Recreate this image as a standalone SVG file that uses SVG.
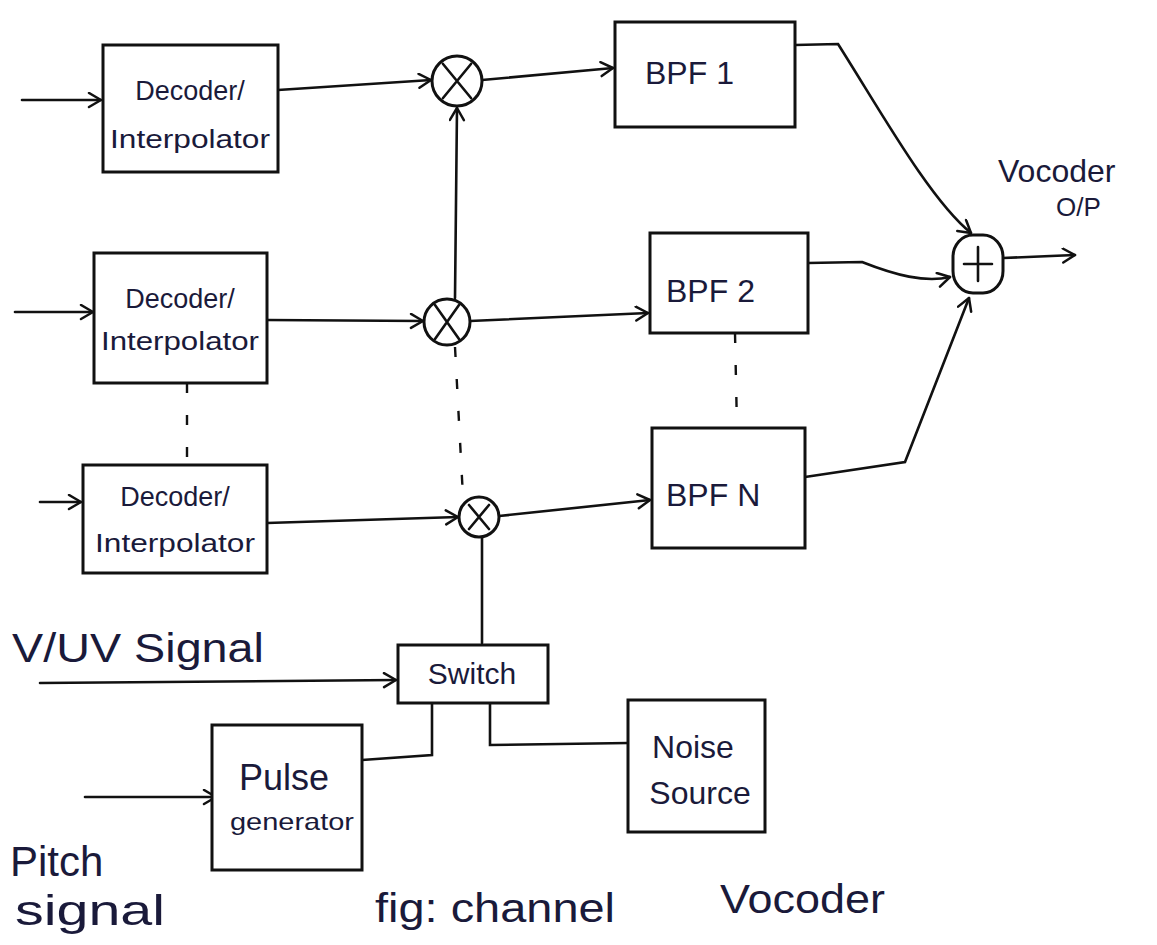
<svg xmlns="http://www.w3.org/2000/svg" width="1157" height="945" viewBox="0 0 1157 945">
<defs>
<marker id="arr" markerUnits="userSpaceOnUse" markerWidth="20" markerHeight="20" refX="14" refY="8" orient="auto">
<path d="M2,1 L14,8 L2,15" fill="none" stroke="#111" stroke-width="2.5" stroke-linecap="round" stroke-linejoin="round"/>
</marker>
<style>
.box{fill:#fff;stroke:#111;stroke-width:3}
.ln{fill:none;stroke:#111;stroke-width:2.6;stroke-linecap:round}
.dash{fill:none;stroke:#111;stroke-width:2.4;stroke-dasharray:10 22}
.t{font-family:"Liberation Sans",Arial,sans-serif;fill:#1a1a3a}
.op{fill:#fff;stroke:#111;stroke-width:3}
</style>
</defs>
<rect width="1157" height="945" fill="#fff"/>

<g id="connectors">
<path class="ln" d="M22,100 L101,100" marker-end="url(#arr)"/>
<path class="ln" d="M15,312 L93,312" marker-end="url(#arr)"/>
<path class="ln" d="M40,502 L81,502" marker-end="url(#arr)"/>
<path class="ln" d="M278,90 L431,80" marker-end="url(#arr)"/>
<path class="ln" d="M267,320 L423,321" marker-end="url(#arr)"/>
<path class="ln" d="M267,523 L458,517" marker-end="url(#arr)"/>
<path class="ln" d="M455,298 L457,108" marker-end="url(#arr)"/>
<path class="ln" d="M482,80 L613,68" marker-end="url(#arr)"/>
<path class="ln" d="M470,321 L648,313" marker-end="url(#arr)"/>
<path class="ln" d="M499,516 L650,500" marker-end="url(#arr)"/>
<path class="ln" d="M482,643 L482,537"/>
<path class="ln" d="M40,683 L396,680" marker-end="url(#arr)"/>
<path class="ln" d="M85,797 L216,797" marker-end="url(#arr)"/>
<path class="ln" d="M362,760 L432,755 L432,703"/>
<path class="ln" d="M490,703 L490,745 L628,743"/>
<path class="ln" d="M795,45 L838,44 C880,110 930,200 971,233" marker-end="url(#arr)"/>
<path class="ln" d="M808,263 L862,262 C895,275 925,283 950,277" marker-end="url(#arr)"/>
<path class="ln" d="M805,477 L905,462 L969,298" marker-end="url(#arr)"/>
<path class="ln" d="M1003,258 L1075,255" marker-end="url(#arr)"/>
<path class="dash" d="M187,383 L187,465"/>
<path class="dash" d="M455,347 L463,497"/>
<path class="dash" d="M735,333 L737,428"/>
</g>

<g id="dec1">
<rect class="box" x="103" y="45" width="175" height="127"/>
<text class="t" x="190" y="100" font-size="27" text-anchor="middle">Decoder/</text>
<text class="t" x="190" y="148" font-size="26" text-anchor="middle" textLength="160" lengthAdjust="spacingAndGlyphs">Interpolator</text>
</g>
<g id="dec2">
<rect class="box" x="94" y="253" width="173" height="130"/>
<text class="t" x="180" y="308" font-size="27" text-anchor="middle">Decoder/</text>
<text class="t" x="180" y="350" font-size="26" text-anchor="middle" textLength="158" lengthAdjust="spacingAndGlyphs">Interpolator</text>
</g>
<g id="dec3">
<rect class="box" x="83" y="465" width="184" height="108"/>
<text class="t" x="175" y="506" font-size="27" text-anchor="middle">Decoder/</text>
<text class="t" x="175" y="552" font-size="26" text-anchor="middle" textLength="160" lengthAdjust="spacingAndGlyphs">Interpolator</text>
</g>

<g id="mult1">
<circle class="op" cx="457" cy="81" r="25"/>
<path class="ln" d="M443,64 L471,98 M471,64 L443,98"/>
</g>
<g id="mult2">
<circle class="op" cx="447" cy="322" r="23"/>
<path class="ln" d="M435,305 L459,339 M459,305 L435,339"/>
</g>
<g id="mult3">
<circle class="op" cx="479" cy="517" r="20"/>
<path class="ln" d="M469,505 L489,529 M489,505 L469,529"/>
</g>

<g id="bpf1">
<rect class="box" x="615" y="22" width="180" height="105"/>
<text class="t" x="645" y="84" font-size="32">BPF  1</text>
</g>
<g id="bpf2">
<rect class="box" x="650" y="233" width="158" height="100"/>
<text class="t" x="666" y="302" font-size="32">BPF  2</text>
</g>
<g id="bpfn">
<rect class="box" x="652" y="428" width="153" height="120"/>
<text class="t" x="666" y="506" font-size="32">BPF N</text>
</g>

<g id="sum">
<rect class="op" x="953" y="235" width="50" height="58" rx="20" ry="22"/>
<path class="ln" d="M978,247 L978,281 M964,264 L992,264"/>
</g>
<g id="out-label">
<text class="t" x="998" y="182" font-size="32">Vocoder</text>
<text class="t" x="1056" y="216" font-size="26">O/P</text>
</g>

<g id="switch">
<rect class="box" x="398" y="645" width="150" height="58"/>
<text class="t" x="472" y="684" font-size="30" text-anchor="middle">Switch</text>
</g>
<g id="pulse">
<rect class="box" x="212" y="725" width="150" height="145"/>
<text class="t" x="284" y="790" font-size="36" text-anchor="middle">Pulse</text>
<text class="t" x="292" y="830" font-size="24" text-anchor="middle" textLength="124" lengthAdjust="spacingAndGlyphs">generator</text>
</g>
<g id="noise">
<rect class="box" x="628" y="700" width="137" height="132"/>
<text class="t" x="693" y="758" font-size="32" text-anchor="middle">Noise</text>
<text class="t" x="700" y="804" font-size="32" text-anchor="middle">Source</text>
</g>

<g id="labels">
<text class="t" x="12" y="662" font-size="40" textLength="252" lengthAdjust="spacingAndGlyphs">V/UV Signal</text>
<text class="t" x="10" y="876" font-size="42">Pitch</text>
<text class="t" x="15" y="925" font-size="42" textLength="150" lengthAdjust="spacingAndGlyphs">signal</text>
<text class="t" x="375" y="922" font-size="40" textLength="240" lengthAdjust="spacingAndGlyphs">fig: channel</text>
<text class="t" x="720" y="913" font-size="40" textLength="165" lengthAdjust="spacingAndGlyphs">Vocoder</text>
</g>
</svg>
